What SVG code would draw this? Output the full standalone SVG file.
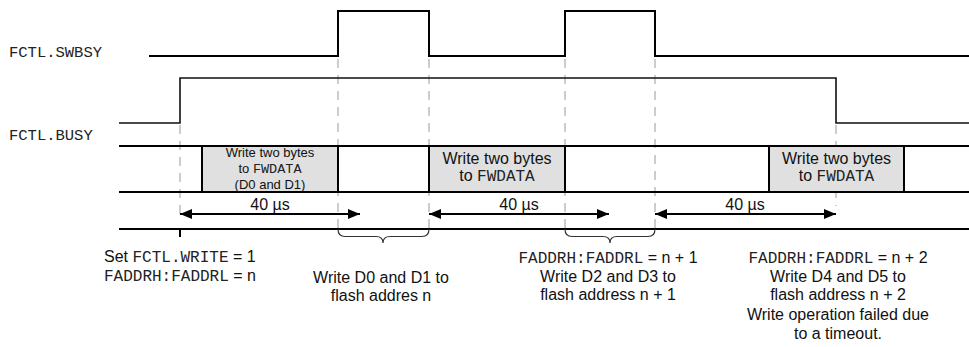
<svg xmlns="http://www.w3.org/2000/svg" width="969" height="347" viewBox="0 0 969 347">
<defs>
<style>
.sig{fill:none;stroke:#000;stroke-width:2}
.sigt{fill:none;stroke:#111;stroke-width:1.6}
.dash{fill:none;stroke:#bdbdbd;stroke-width:1.5;stroke-dasharray:9,7}
.box{fill:#e0e0e0;stroke:none}
.arr{fill:none;stroke:#000;stroke-width:2}
.brace{fill:none;stroke:#333;stroke-width:1.2}
.mono{font-family:"Liberation Mono","Courier New",monospace;fill:#222}
.sans{font-family:"Liberation Sans",Arial,sans-serif;fill:#111}
.t16{font-size:16px}
.t13{font-size:13px}
</style>
<marker id="ah" viewBox="0 0 12 10" refX="12" refY="5" markerWidth="12" markerHeight="10" markerUnits="userSpaceOnUse" orient="auto-start-reverse">
<path d="M0,0 L12,5 L0,10 Z" fill="#000"/>
</marker>
</defs>
<rect width="969" height="347" fill="#fff"/>

<g id="guides">
<line class="dash" x1="180" y1="125" x2="180" y2="214"/>
<line class="dash" x1="338" y1="59" x2="338" y2="229"/>
<line class="dash" x1="429" y1="59" x2="429" y2="229"/>
<line class="dash" x1="565" y1="59" x2="565" y2="229"/>
<line class="dash" x1="655" y1="59" x2="655" y2="229"/>
<line class="dash" x1="836" y1="125" x2="836" y2="206"/>
</g>

<g id="swbsy">
<text class="mono" x="9" y="57" font-size="15.5">FCTL.SWBSY</text>
<polyline class="sig" points="149,56 338,56 338,11 429,11 429,56 565,56 565,11 655,11 655,56 969,56"/>
</g>

<g id="busy">
<text class="mono" x="9" y="140" font-size="15.5">FCTL.BUSY</text>
<polyline class="sigt" points="119,123 180,123 180,78 836,78 836,123 969,123"/>
</g>

<g id="bus">
<rect class="box" x="202" y="146" width="136" height="46"/>
<rect class="box" x="429" y="146" width="136" height="46"/>
<rect class="box" x="769" y="146" width="135" height="46"/>
<line class="sig" x1="119" y1="146" x2="969" y2="146"/>
<line class="sig" x1="119" y1="192" x2="969" y2="192"/>
<line class="sig" x1="202" y1="146" x2="202" y2="192"/>
<line class="sig" x1="338" y1="146" x2="338" y2="192"/>
<line class="sig" x1="429" y1="146" x2="429" y2="192"/>
<line class="sig" x1="565" y1="146" x2="565" y2="192"/>
<line class="sig" x1="769" y1="146" x2="769" y2="192"/>
<line class="sig" x1="904" y1="146" x2="904" y2="192"/>
</g>

<g id="box1">
<text class="sans t13" x="270" y="157" text-anchor="middle">Write two bytes</text>
<text class="sans t13" x="270" y="173" text-anchor="middle">to <tspan class="mono" font-size="13.5">FWDATA</tspan></text>
<text class="sans t13" x="270" y="189" text-anchor="middle">(D0 and D1)</text>
</g>
<g id="box2">
<text class="sans t16" x="497" y="164" text-anchor="middle">Write two bytes</text>
<text class="sans t16" x="497" y="181" text-anchor="middle">to <tspan class="mono">FWDATA</tspan></text>
</g>
<g id="box3">
<text class="sans t16" x="836.5" y="164" text-anchor="middle">Write two bytes</text>
<text class="sans t16" x="836.5" y="181" text-anchor="middle">to <tspan class="mono">FWDATA</tspan></text>
</g>

<g id="connectors">
<line class="arr" x1="180" y1="214" x2="360" y2="214" marker-start="url(#ah)" marker-end="url(#ah)"/>
<line class="arr" x1="429" y1="214" x2="609" y2="214" marker-start="url(#ah)" marker-end="url(#ah)"/>
<line class="arr" x1="655" y1="214" x2="836" y2="214" marker-start="url(#ah)" marker-end="url(#ah)"/>
<line class="sig" x1="119" y1="229" x2="969" y2="229"/>
<line class="sig" x1="180" y1="229" x2="180" y2="237"/>
<path class="brace" d="M338,229 Q338,236.5 345,236.5 L376,236.5 Q383,236.5 383,243 Q383,236.5 390,236.5 L422,236.5 Q429,236.5 429,229"/>
<path class="brace" d="M565,229 Q565,236.5 572,236.5 L603,236.5 Q610,236.5 610,243 Q610,236.5 617,236.5 L648,236.5 Q655,236.5 655,229"/>
</g>

<g id="timing-labels">
<text class="sans t16" x="270" y="210" text-anchor="middle">40 µs</text>
<text class="sans t16" x="519" y="210" text-anchor="middle">40 µs</text>
<text class="sans t16" x="745" y="210" text-anchor="middle">40 µs</text>
</g>

<g id="note1">
<text class="sans t16" x="104" y="262">Set <tspan class="mono">FCTL.WRITE</tspan> = 1</text>
<text class="sans t16" x="104" y="281"><tspan class="mono">FADDRH:FADDRL</tspan> = n</text>
</g>
<g id="note2">
<text class="sans t16" x="381" y="283" text-anchor="middle">Write D0 and D1 to</text>
<text class="sans t16" x="381" y="301" text-anchor="middle">flash addres n</text>
</g>
<g id="note3">
<text class="sans t16" x="608" y="263" text-anchor="middle"><tspan class="mono">FADDRH:FADDRL</tspan> = n + 1</text>
<text class="sans t16" x="608" y="282" text-anchor="middle">Write D2 and D3 to</text>
<text class="sans t16" x="608" y="300" text-anchor="middle">flash address n + 1</text>
</g>
<g id="note4">
<text class="sans t16" x="838" y="263" text-anchor="middle"><tspan class="mono">FADDRH:FADDRL</tspan> = n + 2</text>
<text class="sans t16" x="838" y="282" text-anchor="middle">Write D4 and D5 to</text>
<text class="sans t16" x="838" y="300" text-anchor="middle">flash address n + 2</text>
<text class="sans t16" x="838" y="320" text-anchor="middle">Write operation failed due</text>
<text class="sans t16" x="838" y="339" text-anchor="middle">to a timeout.</text>
</g>
</svg>
